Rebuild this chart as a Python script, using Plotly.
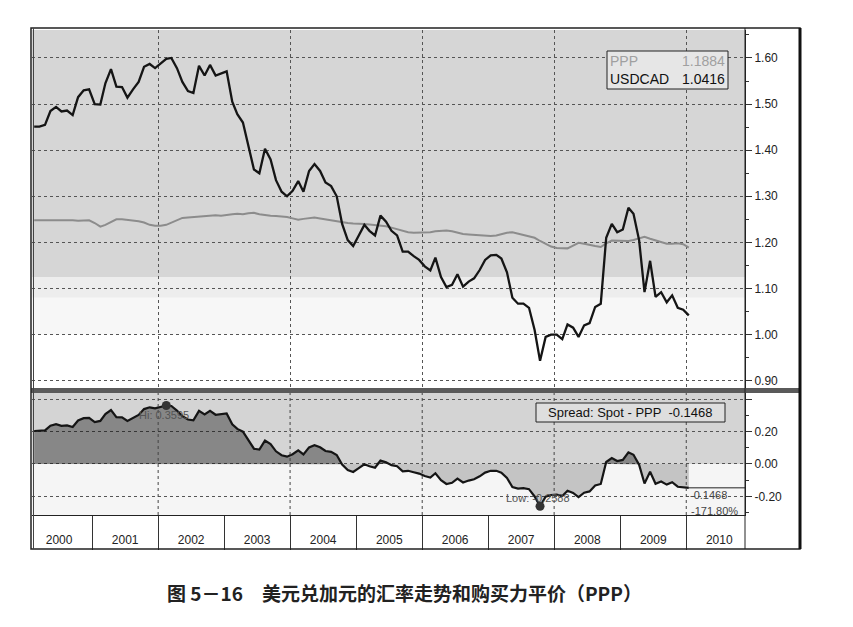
import numpy as np
import pandas as pd
import plotly.graph_objects as go

# page body has an 8px margin, so the figure is sized to sit inside the 853x627 window
OFF = 8
W, H = 853 - 2 * OFF, 627 - 2 * OFF

# ---- data (monthly, Feb 2000 - Jan 2010) ----
dates = pd.date_range("2000-02-01", "2010-01-01", freq="MS") + pd.Timedelta(days=14)

usdcad = [
    1.451, 1.451, 1.455, 1.485, 1.494, 1.484, 1.486, 1.476, 1.515, 1.530, 1.532,
    1.500, 1.499, 1.545, 1.576, 1.538, 1.537, 1.514, 1.532, 1.548, 1.581, 1.587, 1.578,
    1.588, 1.598, 1.600, 1.578, 1.548, 1.528, 1.524, 1.583, 1.562, 1.585, 1.562, 1.567,
    1.571, 1.505, 1.478, 1.460, 1.412, 1.358, 1.350, 1.403, 1.380, 1.335, 1.310, 1.300,
    1.312, 1.333, 1.310, 1.355, 1.370, 1.355, 1.330, 1.322, 1.300, 1.240, 1.205, 1.192,
    1.215, 1.238, 1.225, 1.215, 1.258, 1.245, 1.225, 1.215, 1.180, 1.180, 1.170, 1.162,
    1.148, 1.139, 1.167, 1.125, 1.103, 1.108, 1.131, 1.104, 1.115, 1.122, 1.140, 1.162,
    1.172, 1.173, 1.165, 1.135, 1.080, 1.067, 1.067, 1.058, 1.010, 0.943, 0.995, 1.000,
    1.000, 0.990, 1.022, 1.015, 0.995, 1.020, 1.025, 1.060, 1.067, 1.210, 1.240, 1.222,
    1.228, 1.275, 1.262, 1.205, 1.092, 1.160, 1.082, 1.092, 1.070, 1.085, 1.058, 1.054,
    1.0416,
]

ppp = [
    1.248, 1.248, 1.248, 1.249, 1.249, 1.249, 1.248, 1.248, 1.247, 1.248, 1.248,
    1.242, 1.234, 1.238, 1.244, 1.250, 1.250, 1.249, 1.248, 1.246, 1.243, 1.238, 1.236,
    1.236, 1.238, 1.243, 1.249, 1.253, 1.254, 1.255, 1.256, 1.257, 1.258, 1.259, 1.258,
    1.260, 1.261, 1.262, 1.261, 1.263, 1.264, 1.261, 1.259, 1.258, 1.257, 1.256, 1.255,
    1.252, 1.249, 1.251, 1.253, 1.254, 1.252, 1.250, 1.247, 1.245, 1.243, 1.242, 1.241,
    1.241, 1.240, 1.239, 1.238, 1.237, 1.235, 1.232, 1.229, 1.225, 1.222, 1.221, 1.221,
    1.222, 1.222, 1.224, 1.225, 1.226, 1.224, 1.221, 1.218, 1.217, 1.216, 1.216, 1.215,
    1.214, 1.215, 1.218, 1.221, 1.222, 1.219, 1.216, 1.213, 1.210, 1.203, 1.196, 1.191,
    1.188, 1.187, 1.187, 1.193, 1.199, 1.197, 1.194, 1.192, 1.190, 1.198, 1.204, 1.204,
    1.203, 1.203, 1.205, 1.209, 1.212, 1.208, 1.204, 1.200, 1.197, 1.197, 1.198, 1.196,
    1.1884,
]

top_ticks = [0.90, 1.00, 1.10, 1.20, 1.30, 1.40, 1.50, 1.60]
low_ticks = [-0.20, 0.00, 0.20, 0.40]
low_ticktext = ["-0.20", "0.00", "0.20", ""]
legend_ppp = ("PPP", "1.1884")
legend_spot = ("USDCAD", "1.0416")
spread_label = "Spread: Spot - PPP  -0.1468"
hi_label = "Hi: 0.3595"
low_label = "Low: -0.2588"
last_label = "-0.1468"
last_pct = "-171.80%"
caption = "<b>图 5－16　美元兑加元的汇率走势和购买力平价（PPP）</b>"
grid_years = ["2002-01-01", "2004-01-01", "2006-01-01", "2008-01-01", "2010-01-01"]

spot = np.array(usdcad)
pp = np.array(ppp)
spread = spot - pp

# ---- layout geometry (window pixels -> paper) ----
def px(x):
    return (x - OFF) / W

def py(y):
    return 1 - (y - OFF) / H

X0, X1 = 32, 745
x_range = ["2000-02-03", "2010-11-22"]
FONT = "Arial, Liberation Sans, sans-serif"

fig = go.Figure()

# top panel
fig.add_trace(go.Scatter(x=dates, y=pp, mode="lines", line=dict(color="#8c8c8c", width=2),
                         xaxis="x", yaxis="y", hoverinfo="skip"))
fig.add_trace(go.Scatter(x=dates, y=spot, mode="lines", line=dict(color="#151515", width=2.3),
                         xaxis="x", yaxis="y", hoverinfo="skip"))

# bottom panel fills
fig.add_trace(go.Scatter(x=dates, y=np.minimum(spread, 0), mode="lines", line=dict(width=0),
                         fill="tozeroy", fillcolor="rgba(0,0,0,0.20)",
                         xaxis="x2", yaxis="y2", hoverinfo="skip"))
fig.add_trace(go.Scatter(x=dates, y=np.maximum(spread, 0), mode="lines", line=dict(width=0),
                         fill="tozeroy", fillcolor="rgba(0,0,0,0.36)",
                         xaxis="x2", yaxis="y2", hoverinfo="skip"))
fig.add_trace(go.Scatter(x=dates, y=spread, mode="lines", line=dict(color="#151515", width=2.2),
                         xaxis="x2", yaxis="y2", hoverinfo="skip"))
# last value line
fig.add_trace(go.Scatter(x=[dates[-1], x_range[1]], y=[spread[-1], spread[-1]], mode="lines",
                         line=dict(color="#222", width=1), xaxis="x2", yaxis="y2", hoverinfo="skip"))
# hi / low markers
ihi, ilo = int(np.argmax(spread)), int(np.argmin(spread))
fig.add_trace(go.Scatter(x=[dates[ihi], dates[ilo]], y=[spread[ihi], spread[ilo]], mode="markers",
                         marker=dict(color="#333", size=9), xaxis="x2", yaxis="y2", hoverinfo="skip"))

shapes = []
# top panel background bands
bands = [(1.125, 1.70, "#d6d6d6"), (1.08, 1.125, "#ededed"), (1.00, 1.08, "#f7f7f7")]
for lo, hi, c in bands:
    shapes.append(dict(type="rect", xref="x domain", yref="y", x0=0, x1=1, y0=lo, y1=hi,
                       fillcolor=c, line=dict(width=0), layer="below"))
# bottom panel backgrounds
shapes.append(dict(type="rect", xref="x2 domain", yref="y2", x0=0, x1=1, y0=0, y1=0.5,
                   fillcolor="#d4d4d4", line=dict(width=0), layer="below"))
shapes.append(dict(type="rect", xref="x2 domain", yref="y2", x0=0, x1=1, y0=-0.4, y1=0,
                   fillcolor="#f5f5f5", line=dict(width=0), layer="below"))
# vertical dotted gridlines in lower panel
for gy in grid_years:
    shapes.append(dict(type="line", xref="x2", yref="y2 domain", x0=gy, x1=gy, y0=0, y1=1,
                       line=dict(color="#444", width=1, dash="dot"), layer="above"))
# separator band between panels
shapes.append(dict(type="rect", xref="paper", yref="paper", x0=px(31), x1=px(800),
                   y0=py(393), y1=py(388), fillcolor="#5a5a5a", line=dict(width=0)))
# axis column line through strip
shapes.append(dict(type="line", xref="paper", yref="paper", x0=px(745), x1=px(745),
                   y0=py(549), y1=py(28), line=dict(color="#222", width=1)))
# outer frame
shapes.append(dict(type="rect", xref="paper", yref="paper", x0=px(31), x1=px(800),
                   y0=py(549), y1=py(28), line=dict(color="#222", width=1.5)))
shapes.append(dict(type="line", xref="paper", yref="paper", x0=px(800), x1=px(800),
                   y0=py(549), y1=py(28), line=dict(color="#111", width=3)))
shapes.append(dict(type="line", xref="paper", yref="paper", x0=px(33.5), x1=px(33.5),
                   y0=py(549), y1=py(28), line=dict(color="#444", width=1)))
# legend box
shapes.append(dict(type="rect", xref="paper", yref="paper", x0=px(607), x1=px(728),
                   y0=py(89), y1=py(51), fillcolor="#e6e6e6", line=dict(color="#222", width=1)))
# spread box
shapes.append(dict(type="rect", xref="paper", yref="paper", x0=px(536), x1=px(725),
                   y0=py(422), y1=py(403), fillcolor="#dedede", line=dict(color="#222", width=1)))

ann = []
def txt(text, x, y, size=12, color="#222", xanchor="left", family=FONT):
    ann.append(dict(text=text, x=px(x), y=py(y), xref="paper", yref="paper", showarrow=False,
                    xanchor=xanchor, yanchor="middle", font=dict(size=size, color=color, family=family)))

txt(legend_ppp[0], 608, 61, 14, "#a0a0a0")
txt(legend_ppp[1], 727, 61, 14, "#a0a0a0", "right")
txt(legend_spot[0], 608, 79, 14, "#111")
txt(legend_spot[1], 727, 79, 14, "#111", "right")
txt(spread_label, 630, 412.5, 13, "#111", "center")
txt(last_label, 688, 495, 11, "#444")
txt(last_pct, 689, 511, 11, "#444")
txt(caption, 404, 592, 19, "#222", "center", "Noto Sans CJK SC")

ann.append(dict(text=hi_label, x=dates[ihi], y=spread[ihi], xref="x2", yref="y2", showarrow=False,
                xanchor="center", yanchor="middle", yshift=-9, xshift=-2,
                font=dict(size=11, color="#555", family=FONT)))
ann.append(dict(text=low_label, x=dates[ilo], y=spread[ilo], xref="x2", yref="y2", showarrow=False,
                xanchor="center", yanchor="middle", yshift=8, xshift=-2,
                font=dict(size=11, color="#555", family=FONT)))

grid_style = dict(griddash="dot", gridcolor="#555", gridwidth=1)

fig.update_layout(
    width=W, height=H, autosize=False,
    margin=dict(l=0, r=0, t=0, b=0),
    paper_bgcolor="white", plot_bgcolor="white",
    showlegend=False,
    font=dict(family=FONT, size=12, color="#222"),
    xaxis=dict(domain=[px(X0), px(X1)], anchor="y", type="date", range=x_range,
               showticklabels=False, ticks="", showgrid=True, dtick="M24", tick0="2000-01-01",
               zeroline=False, showline=False, **grid_style),
    yaxis=dict(domain=[py(388), py(30)], anchor="x", side="right", range=[0.8841, 1.6607],
               tickvals=top_ticks, tickformat=".2f", ticks="outside", ticklen=6, tickcolor="#333",
               minor=dict(ticks="outside", ticklen=3, dtick=0.05, tick0=0, tickcolor="#333", showgrid=False),
               showline=True, linecolor="#222", linewidth=1, zeroline=False,
               tickfont=dict(size=12, color="#222"), showgrid=True, **grid_style),
    xaxis2=dict(domain=[px(X0), px(X1)], anchor="y2", type="date", range=x_range, matches="x",
                ticks="outside", ticklen=34, tickcolor="#333", tickwidth=1, dtick="M12",
                tick0="2000-01-01", tickformat="%Y", ticklabelmode="period", ticklabelstandoff=-20,
                showgrid=False, showline=True, linecolor="#222", linewidth=1, zeroline=False,
                tickfont=dict(size=12, color="#222")),
    yaxis2=dict(domain=[py(515), py(393)], anchor="x2", side="right", range=[-0.314, 0.437],
                tickvals=low_ticks, ticktext=low_ticktext, ticks="outside", ticklen=6, tickcolor="#333",
                minor=dict(ticks="outside", ticklen=3, dtick=0.1, tick0=0, tickcolor="#333", showgrid=False),
                showline=True, linecolor="#222", linewidth=1, zeroline=False,
                tickfont=dict(size=12, color="#222"), showgrid=True, **grid_style),
    shapes=shapes,
    annotations=ann,
)

fig.write_html("out.html")
